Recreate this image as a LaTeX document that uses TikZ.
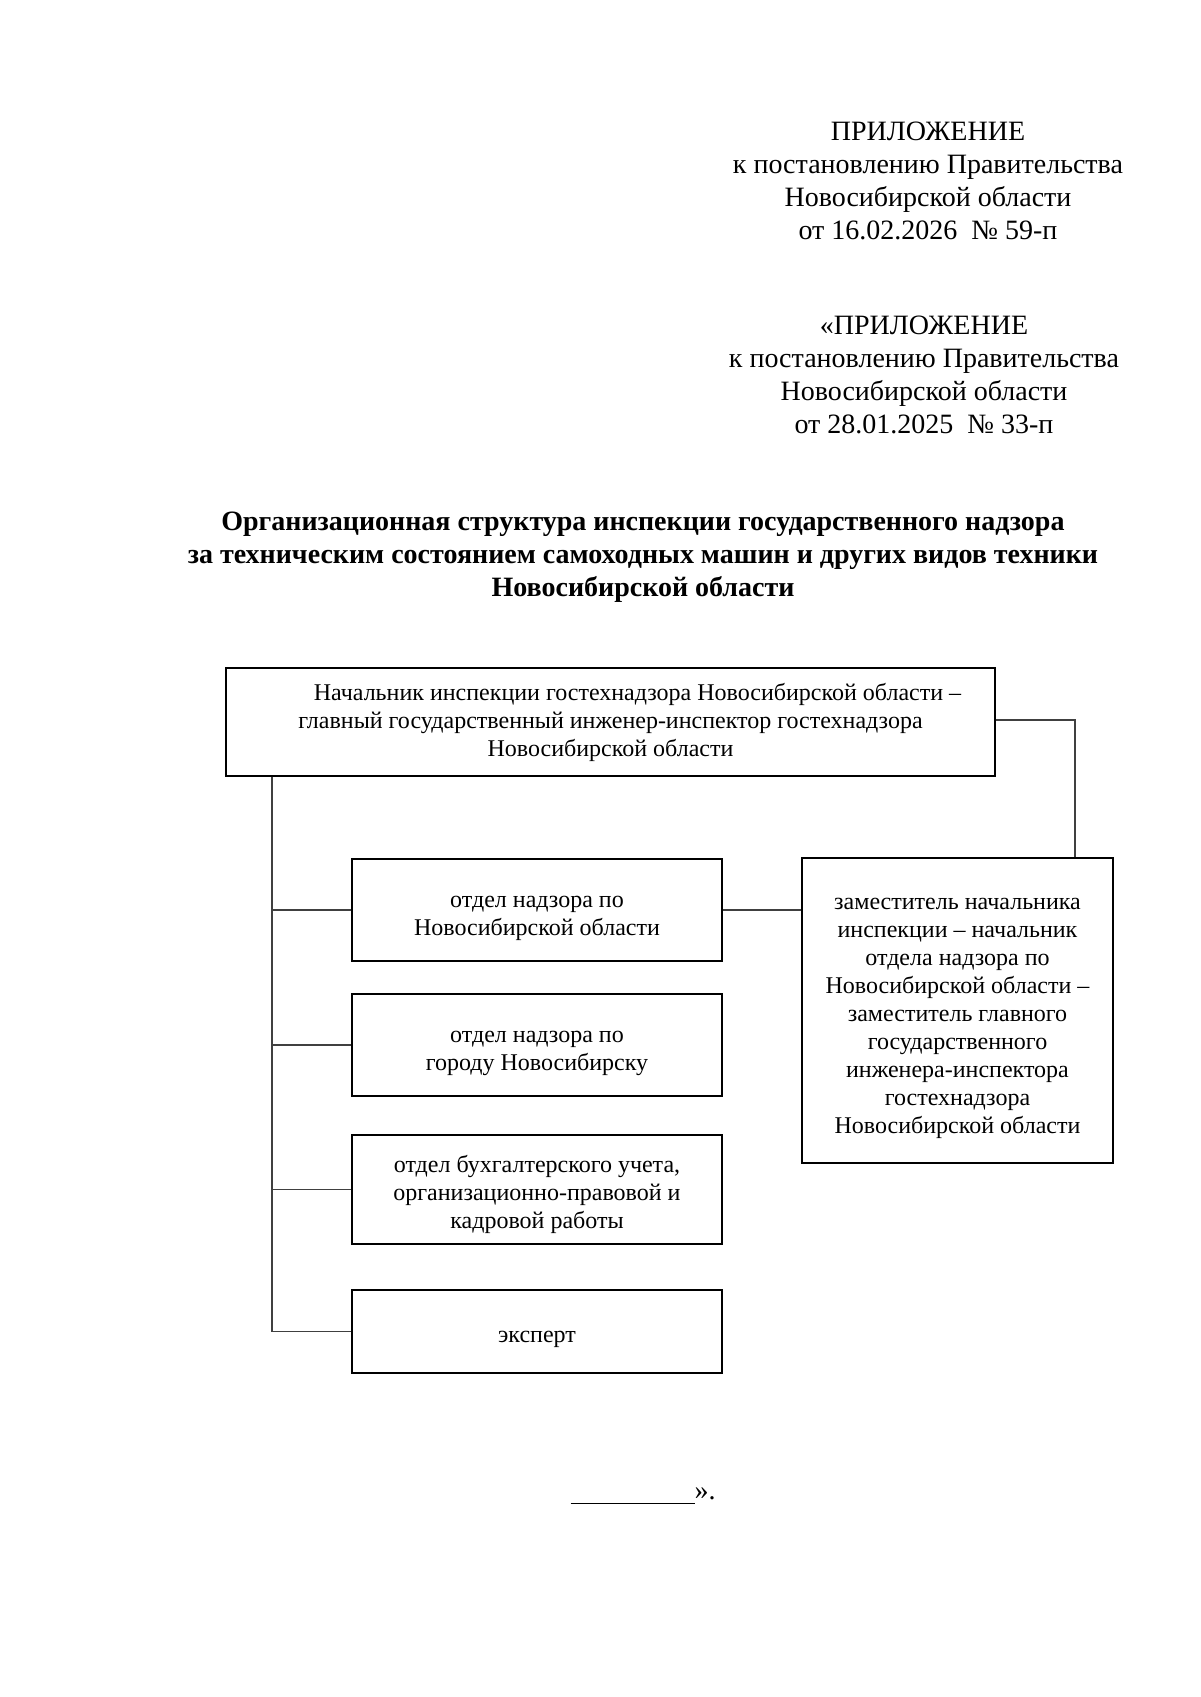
\documentclass[tikz,border=0pt]{standalone}
\usepackage{fontspec}
\setmainfont{Liberation Serif}
\usetikzlibrary{positioning}
\newcommand{\ugap}{\rule{0pt}{14pt}}
\tikzset{orgbox/.style={draw,line width=0.6pt,align=center,inner sep=0pt,
  font=\fontsize{12}{14}\selectfont},
  link/.style={draw=black!75,line width=0.6pt},
  header/.style={align=center,font=\fontsize{14}{16.6}\selectfont}}

\begin{document}
\begin{tikzpicture}[x=0.5pt,y=-0.5pt]
\useasboundingbox (0,0) rectangle (1200,1697);
\node[header] (app1) at (928,181) {ПРИЛОЖЕНИЕ\\к постановлению Правительства\\Новосибирской области\\от 16.02.2026~~№ 59-п};
\node[header] (app2) at (924,375) {«ПРИЛОЖЕНИЕ\\к постановлению Правительства\\Новосибирской области\\от 28.01.2025~~№ 33-п};
\node[header,font=\fontsize{14}{16.4}\selectfont\bfseries] (title) at (643,557) {Организационная структура инспекции государственного надзора\\за техническим состоянием самоходных машин и других видов техники\\Новосибирской области};
\node[orgbox,minimum width=384.5pt,minimum height=54pt] (chief) at (610.5,722) {\hspace*{27pt}Начальник инспекции гостехнадзора Новосибирской области –\\главный государственный инженер-инспектор гостехнадзора\\Новосибирской области};
\node[orgbox,minimum width=185pt,minimum height=51pt] (dept1) at (537,910) {\ugap отдел надзора по\\Новосибирской области};
\node[orgbox,minimum width=185pt,minimum height=51pt] (dept2) at (537,1045) {\ugap отдел надзора по\\городу Новосибирску};
\node[orgbox,minimum width=185pt,minimum height=54.5pt] (dept3) at (537,1189.5) {\ugap отдел бухгалтерского учета,\\организационно-правовой и\\кадровой работы};
\node[orgbox,minimum width=185pt,minimum height=41.5pt] (expert) at (537,1331.5) {\ugap эксперт};
\node[orgbox,minimum width=155.5pt,minimum height=152.5pt] (deputy) at (957.5,1010.5) {\ugap заместитель начальника\\инспекции – начальник\\отдела надзора по\\Новосибирской области –\\заместитель главного\\государственного\\инженера-инспектора\\гостехнадзора\\Новосибирской области};
\node[header] (close) at (643,1496) {\rule[-2pt]{62pt}{0.6pt}».};
\coordinate (bus) at (272,776);
\coordinate (rise) at (1075,720);
% connectors
\draw[link] (chief.south -| bus) |- (expert.west);
\draw[link] (dept1.west) -- (dept1.west -| bus);
\draw[link] (dept2.west) -- (dept2.west -| bus);
\draw[link] (dept3.west) -- (dept3.west -| bus);
\draw[link] (chief.east |- rise) -| (deputy.north -| rise);
\draw[link] (dept1.east) -- (dept1.east -| deputy.west);
\end{tikzpicture}
\end{document}
